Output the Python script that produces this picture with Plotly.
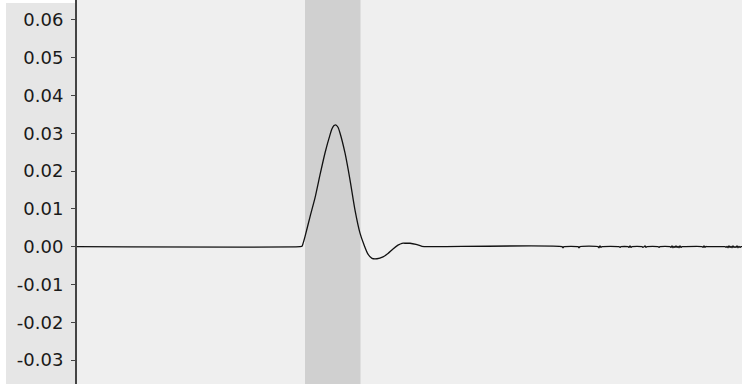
import plotly.graph_objects as go

# Signal readings (x in sample units, y in signal units)
sig_x = [0, 223, 225, 226, 228, 233, 238, 243, 248, 253, 255, 257, 258, 259, 261, 263, 268, 273,
         278, 283, 287, 291, 295, 300, 306, 311, 316, 321, 325, 329, 333, 339, 345, 351,
         485, 486, 487, 501, 502, 503, 521, 522, 523, 524, 525, 542, 543, 544,
         551, 552, 553, 554, 555, 565, 566, 567, 568, 569, 570,
         581, 582, 583, 593, 594, 595, 596, 597, 598, 599, 600, 601, 602, 603, 604, 605, 606,
         625, 626, 627, 628, 629, 630, 648, 649, 650, 651, 652, 653, 654, 655, 656, 657, 658, 659, 660, 661, 662, 663, 664, 665]
sig_y = [0.0, 0.0, 0.0001, 0.0008, 0.00265, 0.0079, 0.0129, 0.0190, 0.0248, 0.0296, 0.0312, 0.0321, 0.0322, 0.0322, 0.0316, 0.0301, 0.0248, 0.0177,
         0.0097, 0.0036, 0.0005, -0.0020, -0.0031, -0.0032, -0.0027, -0.0018, -0.0006, 0.0004, 0.0009, 0.0009, 0.0009, 0.0006, 0.0001, 0.0,
         0.0, -0.0003, 0.0, 0.0, -0.0003, 0.0, 0.0, -0.0003, 0.0002, -0.0002, 0.0, 0.0, -0.0002, 0.0,
         0.0, -0.0002, 0.0002, -0.0002, 0.0, 0.0, -0.0002, 0.0, 0.0002, -0.0002, 0.0,
         0.0, -0.0002, 0.0, 0.0, -0.0002, 0.0002, -0.0003, 0.0001, -0.0002, 0.0002, -0.0002, 0.0001, -0.0003, 0.0002, -0.0002, 0.0, 0.0,
         0.0, -0.0002, 0.0002, -0.0002, 0.0001, 0.0, 0.0, -0.0002, 0.0001, -0.0003, 0.0002, -0.0002, 0.0001, -0.0003, 0.0002, -0.0002, 0.0, -0.0002, 0.0002, -0.0003, 0.0001, -0.0002, 0.0, 0.0]

band_start = 228
band_end = 283.5

tick_vals = [0.06, 0.05, 0.04, 0.03, 0.02, 0.01, 0.0, -0.01, -0.02, -0.03]
tick_text = ["0.06", "0.05", "0.04", "0.03", "0.02", "0.01", "0.00", "-0.01", "-0.02", "-0.03"]

fig = go.Figure()
fig.add_trace(go.Scatter(x=sig_x, y=sig_y, mode="lines", line_shape="spline",
                         line=dict(color="#111111", width=1.3, smoothing=0.6), hoverinfo="skip"))

fig.add_shape(type="rect", xref="x", yref="paper", x0=band_start, x1=band_end, y0=0, y1=1,
              fillcolor="#d0d0d0", line=dict(width=0), layer="below")
# left margin strip
fig.add_shape(type="rect", xref="paper", yref="paper", x0=-71/665, x1=0, y0=0, y1=381/384,
              fillcolor="#e6e6e6", line=dict(width=0), layer="below")

fig.update_layout(
    width=742, height=384,
    margin=dict(l=77, r=0, t=0, b=0),
    paper_bgcolor="white",
    plot_bgcolor="#efefef",
    showlegend=False,
    font=dict(family="DejaVu Sans", size=18, color="#1a1a1a"),
    xaxis=dict(range=[0, 665], showgrid=False, zeroline=False, showticklabels=False,
               ticks="", showline=False, automargin=False),
    yaxis=dict(range=[-0.03635, 0.06529], showgrid=False, zeroline=False,
               tickvals=tick_vals, ticktext=tick_text, ticks="outside", ticklen=4,
               tickcolor="#444444", tickwidth=1, showline=True, linecolor="#444444",
               linewidth=2, ticklabelstandoff=4, automargin=False),
)

fig.write_html("out.html", config={"displayModeBar": False},
               post_script="document.body.style.margin='0';document.body.style.overflow='hidden';")
